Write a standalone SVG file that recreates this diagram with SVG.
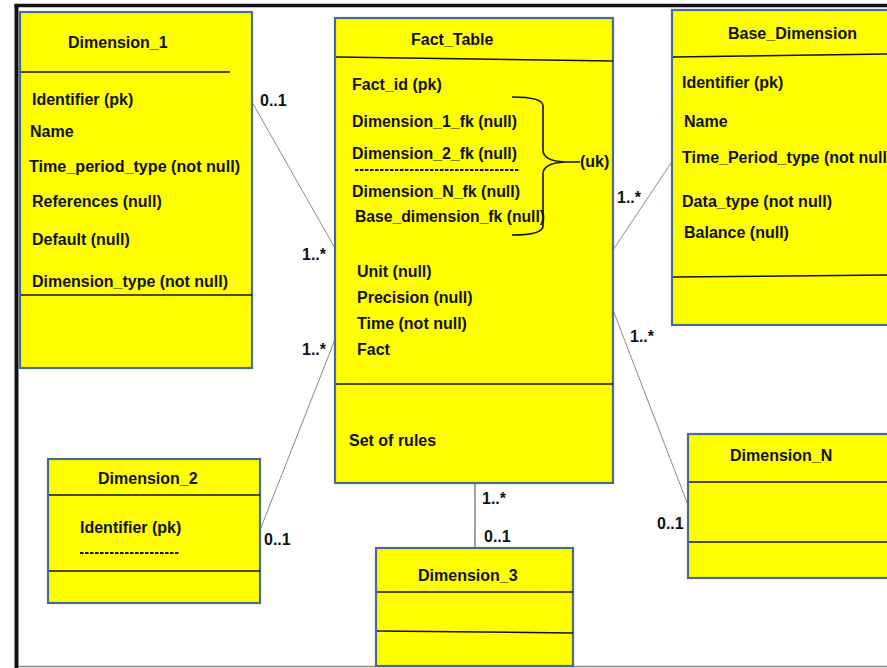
<svg xmlns="http://www.w3.org/2000/svg" width="887" height="668" viewBox="0 0 887 668">
<style>
.box{fill:#ffff00;stroke:#4a6a95;stroke-width:2.2}
.sep{stroke:#111;stroke-width:1.5;fill:none}
.t{font-family:"Liberation Sans",Arial,sans-serif;font-weight:bold;font-size:16px;fill:#111}
.lbl{font-family:"Liberation Sans",Arial,sans-serif;font-weight:bold;font-size:16px;fill:#111}
.conn{stroke:#8a8a8a;stroke-width:1;fill:none}
.dash{stroke:#111;stroke-width:2;stroke-dasharray:3.5,1.5}
</style>
<rect width="887" height="668" fill="#ffffff"/>
<g id="frame">
<line x1="14.5" y1="5.5" x2="887" y2="5.5" stroke="#111" stroke-width="3.5"/>
<line x1="16.5" y1="4" x2="16.5" y2="668" stroke="#111" stroke-width="4"/>
<line x1="18" y1="666.5" x2="887" y2="666.5" stroke="#888" stroke-width="1.5"/>
</g>
<g id="connectors">
<line class="conn" x1="252" y1="102" x2="336" y2="250"/>
<line class="conn" x1="336" y1="337" x2="260" y2="530"/>
<line class="conn" x1="613" y1="250" x2="673" y2="160"/>
<line class="conn" x1="613" y1="310" x2="688" y2="505"/>
<line x1="475" y1="483" x2="475" y2="548" stroke="#444" stroke-width="1"/>
<text class="lbl" x="260" y="106">0..1</text>
<text class="lbl" x="302" y="260">1..*</text>
<text class="lbl" x="302" y="355">1..*</text>
<text class="lbl" x="264" y="545">0..1</text>
<text class="lbl" x="617" y="203">1..*</text>
<text class="lbl" x="630" y="342">1..*</text>
<text class="lbl" x="657" y="529">0..1</text>
<text class="lbl" x="482" y="504">1..*</text>
<text class="lbl" x="484" y="542">0..1</text>
</g>
<g id="dimension_1">
<rect class="box" x="20" y="12" width="232" height="356"/>
<line class="sep" x1="21" y1="72" x2="230" y2="72"/>
<line class="sep" x1="21" y1="295" x2="252" y2="295"/>
<text class="t" x="68" y="48">Dimension_1</text>
<text class="t" x="32" y="105">Identifier (pk)</text>
<text class="t" x="30" y="137">Name</text>
<text class="t" x="29" y="172" textLength="211" lengthAdjust="spacingAndGlyphs">Time_period_type (not null)</text>
<text class="t" x="32" y="207">References (null)</text>
<text class="t" x="32" y="245">Default (null)</text>
<text class="t" x="32" y="287" textLength="196" lengthAdjust="spacingAndGlyphs">Dimension_type (not null)</text>
</g>
<g id="fact_table">
<rect class="box" x="335" y="18" width="278" height="465"/>
<line class="sep" x1="336" y1="57" x2="613" y2="61"/>
<line class="sep" x1="336" y1="384" x2="613" y2="384"/>
<text class="t" x="411" y="45">Fact_Table</text>
<text class="t" x="352" y="90">Fact_id (pk)</text>
<text class="t" x="352" y="127" textLength="165" lengthAdjust="spacingAndGlyphs">Dimension_1_fk (null)</text>
<text class="t" x="352" y="159" textLength="165" lengthAdjust="spacingAndGlyphs">Dimension_2_fk (null)</text>
<line class="dash" x1="355" y1="170" x2="520" y2="170"/>
<text class="t" x="352" y="197" textLength="168" lengthAdjust="spacingAndGlyphs">Dimension_N_fk (null)</text>
<text class="t" x="355" y="222" textLength="190" lengthAdjust="spacingAndGlyphs">Base_dimension_fk (null)</text>
<path d="M512,97 Q543,97 543,106 L543,150 Q543,161 565,162 L580,162 M565,162 Q543,163 543,174 L543,226 Q543,235 512,235" fill="none" stroke="#111" stroke-width="1.6"/>
<text class="t" x="580" y="167">(uk)</text>
<text class="t" x="357" y="277">Unit (null)</text>
<text class="t" x="357" y="303">Precision (null)</text>
<text class="t" x="357" y="329">Time (not null)</text>
<text class="t" x="357" y="355">Fact</text>
<text class="t" x="349" y="446">Set of rules</text>
</g>
<g id="base_dimension">
<rect class="box" x="672" y="10" width="220" height="315"/>
<line class="sep" x1="673" y1="57" x2="887" y2="54"/>
<line class="sep" x1="673" y1="277" x2="887" y2="275"/>
<text class="t" x="728" y="39">Base_Dimension</text>
<text class="t" x="682" y="88">Identifier (pk)</text>
<text class="t" x="684" y="127">Name</text>
<text class="t" x="682" y="163" textLength="205" lengthAdjust="spacingAndGlyphs">Time_Period_type (not null</text>
<text class="t" x="682" y="207" textLength="150" lengthAdjust="spacingAndGlyphs">Data_type (not null)</text>
<text class="t" x="684" y="238">Balance (null)</text>
</g>
<g id="dimension_2">
<rect class="box" x="48" y="459" width="212" height="144"/>
<line class="sep" x1="49" y1="495" x2="260" y2="495"/>
<line class="sep" x1="49" y1="571" x2="260" y2="571"/>
<text class="t" x="98" y="484">Dimension_2</text>
<text class="t" x="80" y="533">Identifier (pk)</text>
<line class="dash" x1="80" y1="553" x2="179" y2="553"/>
</g>
<g id="dimension_3">
<rect class="box" x="376" y="548" width="197" height="118"/>
<line class="sep" x1="377" y1="592" x2="573" y2="592"/>
<line class="sep" x1="377" y1="631" x2="573" y2="633"/>
<text class="t" x="418" y="581">Dimension_3</text>
</g>
<g id="dimension_n">
<rect class="box" x="688" y="434" width="204" height="144"/>
<line class="sep" x1="689" y1="482" x2="887" y2="482"/>
<line class="sep" x1="689" y1="542" x2="887" y2="542"/>
<text class="t" x="730" y="461">Dimension_N</text>
</g>
</svg>
